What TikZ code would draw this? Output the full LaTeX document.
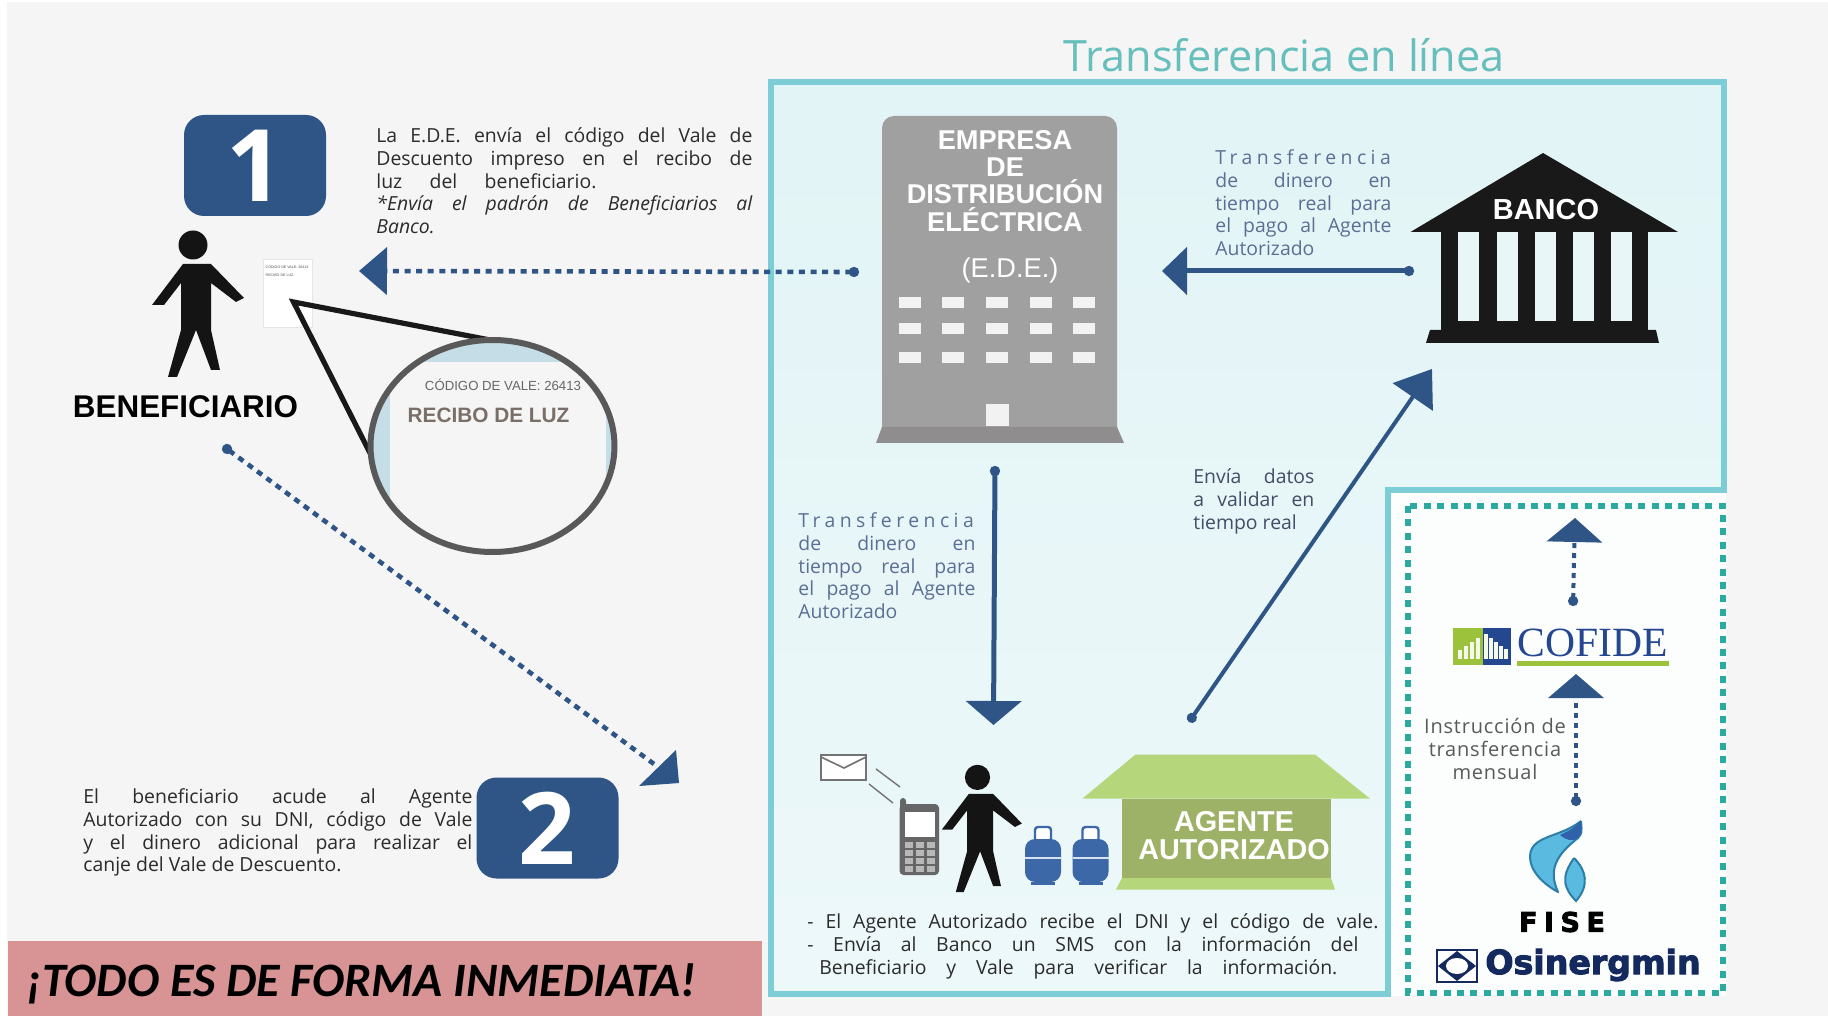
\documentclass[tikz,border=0pt]{standalone}
\usepackage{fontspec}
\setmainfont{Open Sans}
\newfontfamily\armfont{Liberation Sans}
\newfontfamily\serifmark{Liberation Serif}
\newfontfamily\bannerfont{Carlito}
\newfontfamily\osifont[BoldFeatures={FakeBold=3}]{DejaVu Sans}
\usetikzlibrary{arrows.meta}
\definecolor{pagegrey}{HTML}{F5F5F5}
\definecolor{framecyan}{HTML}{7CCDD6}
\definecolor{titleteal}{HTML}{66BFBD}
\definecolor{dotteal}{HTML}{2BAAA0}
\definecolor{arrowblue}{HTML}{2E5585}
\definecolor{blocklabel}{HTML}{5B6F95}
\definecolor{bodyink}{HTML}{2B2B2B}
\definecolor{buildgrey}{HTML}{A0A0A0}
\definecolor{buildbase}{HTML}{8F8D8D}
\definecolor{roofgreen}{HTML}{B5D67A}
\definecolor{wallgreen}{HTML}{9DB266}
\definecolor{cylblue}{HTML}{3C68A8}
\definecolor{cofgreen}{HTML}{9CC23C}
\definecolor{cofblue}{HTML}{24478F}
\definecolor{osinavy}{HTML}{14295E}
\definecolor{paperblue}{HTML}{C5DDE6}
\definecolor{bannerred}{HTML}{D89494}
\definecolor{reciboink}{HTML}{7A6E68}
\definecolor{flamelight}{HTML}{5BBAE0}
\definecolor{flameedge}{HTML}{2C7DA8}
\definecolor{flamedark}{HTML}{2F62A8}
\newcommand{\fitline}[2]{\hbox to #1{#2}}
\newcommand{\wideltr}[1]{{\addfontfeature{LetterSpace=23}#1}}
\tikzset{
 badge/.style={fill=arrowblue, text=white, rounded corners=10pt, inner sep=0pt, minimum width=71pt, minimum height=50.5pt, font={\fontsize{50}{50}\selectfont\bfseries}},
 bodytext/.style={anchor=north west, inner sep=0pt, align=left, text=bodyink, font={\fontsize{9.7}{11.45}\selectfont}},
 bluetext/.style={bodytext, text=blocklabel},
 armtext/.style={inner sep=0pt, font={\armfont\fontsize{#1}{#1}\selectfont\bfseries}},
 thickarrow/.style={draw=arrowblue, line width=2.5pt, {Circle[length=5pt]}-{Triangle[length=12.5pt,width=23.5pt]}},
 dotarrow/.style={draw=arrowblue, line width=2.3pt, dash pattern=on 3pt off 2.8pt},
 personfig/.pic={
  \fill[black!92] (0,0) circle [radius=14.5];
  \fill[black!92] (-10,19) -- (-41,60) -- (-29,60) -- (-12,38) -- (-12,85) -- (-25,132) -- (-16,132) -- (3,85) -- (18,125) -- (27,125) -- (18,85) -- (18,38) -- (43,57) -- (51,53) -- (18,19) -- cycle;
 },
}
\begin{document}
\begin{tikzpicture}[x=0.5pt,y=-0.5pt]
 \useasboundingbox (0,0) rectangle (1828,1016);
 \fill[white] (0,0) rectangle (1828,1016);
 \fill[pagegrey] (7,2) rectangle (1828,1016);

 \shade[top color=framecyan!22!white, bottom color=framecyan!14!white] (771,82) -- (1724,82) -- (1724,490) -- (1388,490) -- (1388,994) -- (771,994) -- cycle;
 \fill[white!98!framecyan] (1388,490) rectangle (1726,996);
 \draw[framecyan, line width=3pt] (771,82) -- (1724,82) -- (1724,490) -- (1388,490) -- (1388,994) -- (771,994) -- cycle;
 \draw[dotteal, line width=3pt, dash pattern=on 3.5pt off 3.2pt] (1408,506) rectangle (1723,993);
 \node[inner sep=0pt, text=titleteal, font={\fontsize{21.6}{21.6}\selectfont}] (title) at (1284,55) {Transferencia en línea};

 % lado izquierdo
 \node[badge] (one) at (255,165.5) {1};
 \pic at (193,245) {personfig};
 \node[armtext=15.7] (benef) at (185.5,407) {BENEFICIARIO};
 \draw[black!10, fill=white, line width=0.5pt] (263,260) rectangle (312,328);
 \node[inner sep=0pt, text=black!70, align=left, font={\armfont\fontsize{1.8}{4}\selectfont}] (recibochico) at (287,271) {CÓDIGO DE VALE: 26413\\RECIBO DE LUZ};
 \coordinate (lupa) at (293.5,302);
 \draw[black!90, line width=2.6pt, line join=miter] (490,340) -- (lupa) -- (370,453);
 \begin{scope}
  \clip (492.5,446) ellipse [x radius=122, y radius=106];
  \fill[white!96!black] (370,340) rectangle (615,552);
  \fill[paperblue] (370,340) rectangle (615,362);
  \fill[paperblue] (370,340) rectangle (390,552);
  \fill[paperblue] (606,340) rectangle (615,552);
 \end{scope}
 \draw[black!65, line width=3pt] (492.5,446) ellipse [x radius=122, y radius=106];
 \node[inner sep=0pt, text=black!60, font={\armfont\fontsize{6.6}{7}\selectfont}] (codigo) at (503,385) {CÓDIGO DE VALE: 26413};
 \node[armtext=10.4, text=reciboink] (recibo) at (488.5,415) {RECIBO DE LUZ};
 \node[bodytext] (pasouno) at (376,127) {\fitline{188pt}{La E.D.E. envía el código del Vale de}\\
  \fitline{188pt}{Descuento impreso en el recibo de}\\
  \fitline{110pt}{luz del beneficiario.}\\
  \itshape\fitline{188pt}{*Envía el padrón de Beneficiarios al}\\
  \itshape Banco.};
 \node[badge] (two) at (547.5,828) {2};
 \node[bodytext] (pasodos) at (83,788) {\fitline{194.5pt}{El beneficiario acude al Agente}\\
  \fitline{194.5pt}{Autorizado con su DNI, código de Vale}\\
  \fitline{194.5pt}{y el dinero adicional para realizar el}\\
  canje del Vale de Descuento.};
 \fill[bannerred] (8,941) rectangle (762,1016);
 \node[anchor=west, inner sep=0pt, font={\bannerfont\fontsize{24}{24}\selectfont\bfseries\itshape}] (inmediata) at (26,984) {¡TODO ES DE FORMA INMEDIATA!};

 % empresa de distribucion
 \fill[buildgrey, rounded corners=6pt] (882,440) -- (882,116) -- (1117,116) -- (1117,440) -- cycle;
 \fill[buildbase] (882,427) -- (1117,427) -- (1124,443) -- (876,443) -- cycle;
 \node[armtext=13.6, text=white, align=center] (ede) at (1005,181) {\fontsize{13.6}{12.8}\selectfont EMPRESA\\DE\\DISTRIBUCIÓN\\ELÉCTRICA};
 \node[armtext=13.6, text=white, font={\armfont\fontsize{13.6}{13.6}\selectfont}] (edesigla) at (1010,270) {(E.D.E.)};
 \foreach \wx in {910,953,997,1041,1084}
  \foreach \wy in {303,329,358}
   \fill[white!95!black] (\wx-11,\wy-5.5) rectangle +(22,11);
 \fill[white!95!black] (986,404) rectangle (1009,426);

 % banco
 \fill[black!90] (1543,153) -- (1678,232) -- (1410.5,232) -- cycle;
 \fill[black!90] (1441,232) rectangle (1648,330);
 \fill[black!90] (1430,330) -- (1656,330) -- (1659,343) -- (1426,343) -- cycle;
 \foreach \gx in {1458,1497,1535,1573,1611}
  \fill[framecyan!18!white] (\gx,232) rectangle +(21,89);
 \node[armtext=14.5, text=white] (banco) at (1546,210) {BANCO};
 \node[bluetext] (transfbanco) at (1215,149) {\wideltr{Transferencia}\\
  \fitline{88pt}{de dinero en}\\
  \fitline{88pt}{tiempo real para}\\
  \fitline{88pt}{el pago al Agente}\\
  Autorizado};
 \coordinate (bancoout) at (1414,271);
 \coordinate (edein) at (1162,271);
 \draw[thickarrow] (bancoout) -- (edein);

 \coordinate (edeout) at (859,272);
 \coordinate (benefin) at (359,271);
 \draw[dotarrow, {Circle[length=5pt]}-{Triangle[length=14pt,width=23.5pt]}] (edeout) -- (benefin);

 \coordinate (edebaja) at (995,466);
 \coordinate (agentesube) at (993.5,725);
 \draw[thickarrow, {Circle[length=5pt]}-{Triangle[length=12pt,width=27.5pt]}] (edebaja) -- (agentesube);
 \node[bluetext] (transfede) at (798,512) {\wideltr{Transferencia}\\
  \fitline{88.5pt}{de dinero en}\\
  \fitline{88.5pt}{tiempo real para}\\
  \fitline{88.5pt}{el pago al Agente}\\
  Autorizado};

 \coordinate (agentedato) at (1189,722);
 \coordinate (bancodato) at (1432,369);
 \draw[draw=arrowblue, line width=2pt, {Circle[length=5pt]}-{Triangle[length=17pt,width=24pt]}] (agentedato) -- (bancodato);
 \node[bluetext, text=black!30!blocklabel] (validar) at (1193,468) {\fitline{60.5pt}{Envía datos}\\
  \fitline{60.5pt}{a validar en}\\
  tiempo real};

 \coordinate (benefsale) at (223,446);
 \coordinate (vale) at (654,764);
 \draw[dotarrow, {Circle[length=5pt]}-] (benefsale) -- (vale);
 \fill[arrowblue] (676,750) -- (679,783) -- (639,786) -- cycle;

 % agente autorizado
 \draw[black!55, fill=white, line width=0.8pt] (821,755) rectangle (866,780);
 \draw[black!55, line width=0.8pt] (821,757) -- (844,768) -- (866,757);
 \coordinate (sobre) at (876,769);
 \coordinate (movil) at (900,787);
 \draw[black!55, line width=0.7pt] (sobre) -- (movil) (869,784) -- (893,803);
 \fill[black!60, rounded corners=1.5pt] (900,798) rectangle (906,808);
 \fill[black!60, rounded corners=2pt] (899.6,804) rectangle (939,875);
 \fill[white] (905,811.6) rectangle (935,837);
 \foreach \kx in {905,916,927}
  \foreach \ky in {842,850,858,866}
   \fill[black!28] (\kx,\ky) rectangle +(8,6);
 \pic[scale=0.87] at (977.5,777.4) {personfig};
 \foreach \cx in {1043,1090.5} {
  \draw[cylblue, fill=white, line width=1.2pt, rounded corners=1.5pt] (\cx-8,827) rectangle (\cx+8,842);
  \fill[cylblue, rounded corners=5pt] (\cx-18,839) rectangle (\cx+18,882);
  \fill[cylblue] (\cx-12,882) rectangle (\cx+12,885);
  \fill[white!80!cylblue] (\cx-18,857) rectangle (\cx+18,859);
 }
 \fill[roofgreen] (1135.5,754.5) -- (1315,754.5) -- (1370,798.6) -- (1082.4,798.6) -- cycle;
 \fill[wallgreen] (1122,798.6) rectangle (1331,878);
 \fill[roofgreen] (1122,878) -- (1331,878) -- (1335,889.6) -- (1116,889.6) -- cycle;
 \node[armtext=14.4, text=white, align=center] (agente) at (1234,835.5) {\fontsize{14.4}{13.5}\selectfont AGENTE\\AUTORIZADO};
 \node[bodytext] (pasosms) at (807,913) {\fitline{285.5pt}{- El Agente Autorizado recibe el DNI y el código de vale.}\\
  \fitline{275.5pt}{- Envía al Banco un SMS con la información del}\\
  \hspace*{6pt}\fitline{259pt}{Beneficiario y Vale para verificar la información.}};

 % panel fise
 \coordinate (cofidesale) at (1573,606);
 \coordinate (cofidesube) at (1575,518);
 \draw[draw=arrowblue, line width=2pt, dash pattern=on 2.5pt off 2.5pt, {Circle[length=5pt]}-{Triangle[length=12pt,width=27.5pt]}] (cofidesale) -- (cofidesube);
 \coordinate (fisesale) at (1576,806);
 \coordinate (cofidein) at (1576,674);
 \draw[draw=arrowblue, line width=2pt, dash pattern=on 2.5pt off 2.5pt, {Circle[length=5pt]}-{Triangle[length=12pt,width=27.5pt]}] (fisesale) -- (cofidein);
 \node[inner sep=0pt, text=black!65, align=center, font={\fontsize{10}{11.4}\selectfont\addfontfeature{LetterSpace=4}}] (instruccion) at (1495,749) {Instrucción de\\transferencia\\mensual};
 \fill[cofgreen] (1453,628) rectangle (1483,665);
 \fill[cofblue] (1483,628) rectangle (1511,665);
 \foreach \bx/\by in {1460/650,1466/646,1472/642,1478/638,1486/634,1491/638,1496/642,1501/646,1506/649}
  \fill[white!90!cofgreen] (\bx-1.6,\by) rectangle (\bx+1.6,659);
 \node[anchor=base west, inner sep=0pt, text=cofblue, font={\serifmark\fontsize{20.8}{20.8}\selectfont}] (cofide) at (1517,656) {COFIDE};
 \fill[cofgreen] (1517,661) rectangle (1669,666);

 \draw[draw=flameedge, line width=1pt, fill=flamelight, line join=round] (1581,821) .. controls (1560,838) and (1530,835) .. (1530,857) .. controls (1530,872) and (1545,885) .. (1558,892) .. controls (1548,870) and (1556,855) .. (1578,838) .. controls (1582,833) .. (1581,821);
 \fill[flamedark] (1581,821) .. controls (1572,830) and (1566,832) .. (1560,835) .. controls (1566,840) and (1572,842) .. (1578,838) .. controls (1582,833) .. (1581,821);
 \draw[draw=flameedge, line width=1pt, fill=flamelight] (1574,858) .. controls (1566,870) and (1558,883) .. (1576,901) .. controls (1590,885) and (1586,870) .. (1574,858);
 \node[inner sep=0pt, font={\osifont\fontsize{13.5}{13.5}\selectfont\bfseries\addfontfeature{LetterSpace=24}}] (fise) at (1562,922) {FISE};

 \draw[osinavy, fill=white, line width=1.3pt] (1437,950) rectangle (1477,982);
 \fill[osinavy] (1457,951) -- (1476,966) -- (1457,981) -- (1438,966) -- cycle;
 \fill[white] (1457,966) ellipse [x radius=11, y radius=8];
 \node[inner sep=0pt, text=osinavy, font={\osifont\fontsize{16.6}{16.6}\selectfont\bfseries}] (osinergmin) at (1593,965) {Osinergmin};
\end{tikzpicture}
\end{document}
